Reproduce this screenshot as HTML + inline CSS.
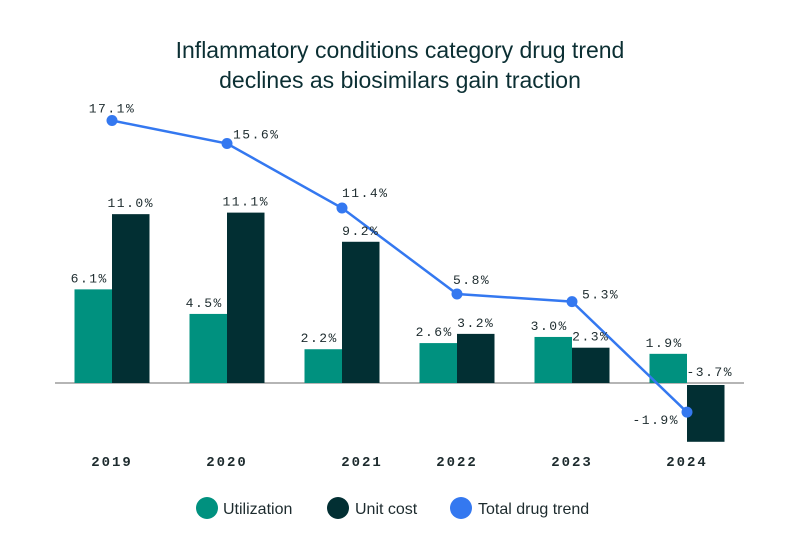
<!DOCTYPE html>
<html><head><meta charset="utf-8"><style>
html,body{margin:0;padding:0;background:#fff;}
svg{display:block;}
.mono{font-family:"Liberation Mono","DejaVu Sans Mono",monospace;fill:#1d2b2e;}
</style></head><body>
<svg id="chart" width="800" height="552" viewBox="0 0 800 552" xmlns="http://www.w3.org/2000/svg">
<text x="400" y="58" text-anchor="middle" font-family="Liberation Sans, sans-serif" font-size="23" fill="#0b2f33">Inflammatory conditions category drug trend</text>
<text x="400" y="88" text-anchor="middle" font-family="Liberation Sans, sans-serif" font-size="23" fill="#0b2f33">declines as biosimilars gain traction</text>
<line x1="55" x2="744" y1="383" y2="383" stroke="#b5b5b5" stroke-width="2"/>
<g id="bars"></g><g id="line"></g><g id="labels"></g>
<g font-family="Liberation Sans, sans-serif" font-size="16" fill="#1d2b2e">
<circle cx="207" cy="508" r="11" fill="#00917f"/>
<text x="223" y="514">Utilization</text>
<circle cx="338" cy="508" r="11" fill="#022f33"/>
<text x="355" y="514">Unit cost</text>
<circle cx="461" cy="508" r="11" fill="#3478f0"/>
<text x="478" y="514">Total drug trend</text>
</g>
</svg>
<script>
const years = ["2019","2020","2021","2022","2023","2024"];
const utilization = [6.1, 4.5, 2.2, 2.6, 3.0, 1.9];
const unitCost = [11.0, 11.1, 9.2, 3.2, 2.3, -3.7];
const totalTrend = [17.1, 15.6, 11.4, 5.8, 5.3, -1.9];
// label placement styles (not data)
const lineLabelDx = [0, 6, 0, -4, 10, -8];
const lineLabelDy = [-8, -5, -11, -10, -3, 12];
const lineLabelAnchor = ["middle","start","start","start","start","end"];

const NS = "http://www.w3.org/2000/svg";
const zeroY = 383, pxPer = 15.35, bw = 37.5;
const x = i => 112 + 115 * i;
const y = v => zeroY - v * pxPer;
function mk(tag, attrs, parent){const e=document.createElementNS(NS,tag);for(const k in attrs)e.setAttribute(k,attrs[k]);parent.appendChild(e);return e;}
const gb=document.getElementById('bars'), gl=document.getElementById('line'), gt=document.getElementById('labels');
function txt(s, xx, yy, anchor, extra){const t=mk('text',Object.assign({x:xx,y:yy,'text-anchor':anchor,'class':'mono','font-size':13,'letter-spacing':'1.5'},extra||{}),gt);t.textContent=s;return t;}
years.forEach((yr,i)=>{
  const u=utilization[i], c=unitCost[i];
  const r1=mk('rect',{x:x(i)-bw,y:Math.min(y(u),zeroY),width:bw,height:Math.abs(y(u)-zeroY),fill:'#00917f'},gb);
  
  
  const cy0 = c>=0 ? y(c) : zeroY+2;
  const r2=mk('rect',{x:x(i),y:cy0,width:bw,height:Math.abs(y(c)-zeroY),fill:'#022f33'},gb);
  
  
  const l1=txt(u.toFixed(1)+'%', x(i)-bw/2-4, Math.min(y(u),zeroY)-7,'middle');
  
  
  const l2=txt(c.toFixed(1)+'%', x(i)+bw/2+ (c<0?4:0), (c>=0?y(c):zeroY)-7,'middle');
  
  
  const yl=txt(yr, x(i)+(i==2?20:0), 466,'middle',{'font-weight':'bold','font-size':14,'letter-spacing':'2'});
  
  
});
const pts=totalTrend.map((v,i)=>x(i)+','+y(v)).join(' ');
const pl=mk('polyline',{points:pts,fill:'none',stroke:'#3478f0','stroke-width':2.5},gl);


totalTrend.forEach((v,i)=>{
  const c=mk('circle',{cx:x(i),cy:y(v),r:5.5,fill:'#3478f0'},gl);
  
  
  const t=txt(v.toFixed(1)+'%', x(i)+lineLabelDx[i], y(v)+lineLabelDy[i], lineLabelAnchor[i]);
  
  
});
</script>
</body></html>
